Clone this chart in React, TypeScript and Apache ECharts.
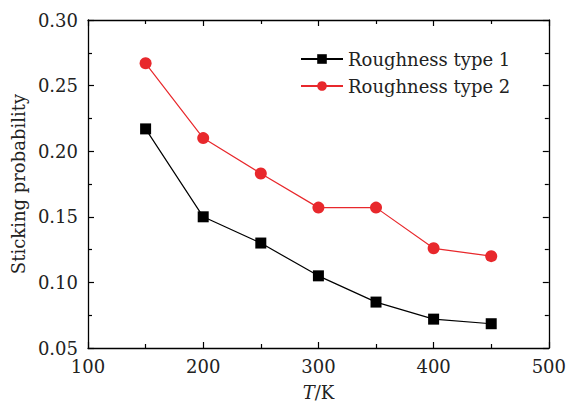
import React, { useEffect, useRef } from "react";
import * as echarts from "echarts";

const temperatures = [150, 200, 250, 300, 350, 400, 450];
const roughness1 = [0.217, 0.150, 0.130, 0.105, 0.085, 0.072, 0.0685];
const roughness2 = [0.267, 0.210, 0.183, 0.157, 0.157, 0.126, 0.120];
const seriesNames = ["Roughness type 1", "Roughness type 2"];

const FONT = "DejaVu Serif";
const FS = 18;

export default function App() {
  const ref = useRef<HTMLDivElement>(null);
  useEffect(() => {
    if (!ref.current) return;
    const chart = echarts.init(ref.current, undefined, { renderer: "svg" });
    const axisLine = { show: true, lineStyle: { color: "#000", width: 1.3 } };
    const tick = { show: true, inside: true, length: 6, lineStyle: { color: "#000", width: 1.2 } };
    const minor = { show: true, splitNumber: 2, length: 4, lineStyle: { color: "#000", width: 1.2 } };
    const label = { color: "#222", fontFamily: FONT, fontSize: FS };
    chart.setOption({
      animation: false,
      backgroundColor: "#fff",
      grid: { left: 88, right: 18, top: 20, bottom: 52 },
      legend: {
        left: 300,
        top: 50,
        padding: 0,
        orient: "vertical",
        itemWidth: 42,
        itemHeight: 12,
        itemGap: 9,
        textStyle: { color: "#222", fontFamily: FONT, fontSize: FS },
        data: seriesNames,
      },
      xAxis: [
        {
          type: "value",
          min: 100,
          max: 500,
          interval: 100,
          position: "bottom",
          axisLine,
          axisTick: tick,
          minorTick: minor,
          splitLine: { show: false },
          axisLabel: { ...label, margin: 9 },
          name: "{i|T}/K",
          nameLocation: "middle",
          nameGap: 35,
          nameTextStyle: {
            color: "#222",
            fontFamily: FONT,
            fontSize: FS,
            rich: {
              i: { fontStyle: "italic", fontFamily: FONT, fontSize: FS, color: "#222" },
            },
          },
        },
        {
          type: "value",
          min: 100,
          max: 500,
          interval: 100,
          position: "top",
          axisLine,
          axisTick: tick,
          minorTick: minor,
          splitLine: { show: false },
          axisLabel: { show: false },
        },
      ],
      yAxis: [
        {
          type: "value",
          min: 0.05,
          max: 0.3,
          interval: 0.05,
          position: "left",
          axisLine,
          axisTick: tick,
          minorTick: minor,
          splitLine: { show: false },
          axisLabel: { ...label, margin: 10, formatter: (v: number) => v.toFixed(2) },
          name: "Sticking probability",
          nameLocation: "middle",
          nameGap: 61,
          nameTextStyle: { color: "#222", fontFamily: FONT, fontSize: FS },
        },
        {
          type: "value",
          min: 0.05,
          max: 0.3,
          interval: 0.05,
          position: "right",
          axisLine,
          axisTick: tick,
          minorTick: minor,
          splitLine: { show: false },
          axisLabel: { show: false },
        },
      ],
      series: [
        {
          name: seriesNames[0],
          type: "line",
          data: temperatures.map((t, i) => [t, roughness1[i]]),
          symbol: "rect",
          symbolSize: 11,
          itemStyle: { color: "#000" },
          lineStyle: { color: "#000", width: 1.2 },
        },
        {
          name: seriesNames[1],
          type: "line",
          data: temperatures.map((t, i) => [t, roughness2[i]]),
          symbol: "circle",
          symbolSize: 12,
          itemStyle: { color: "#e8282c" },
          lineStyle: { color: "#e8282c", width: 1.2 },
        },
      ],
    });
    return () => chart.dispose();
  }, []);
  return <div ref={ref} style={{ width: 569, height: 406, position: "absolute", left: 0, top: 0 }} />;
}
